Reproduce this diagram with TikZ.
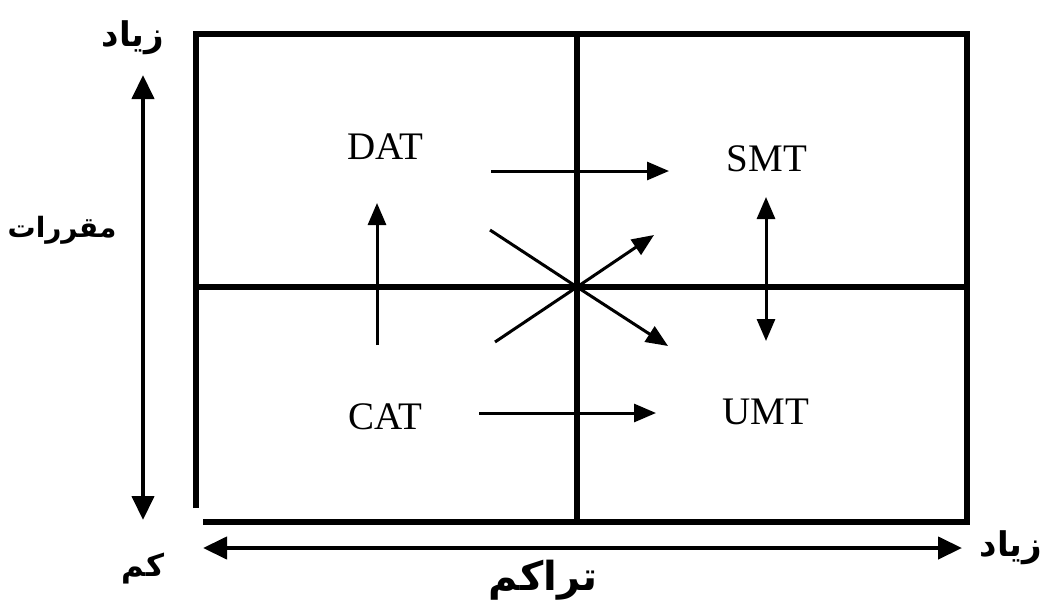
\documentclass[tikz,border=0pt]{standalone}
\usepackage{fontspec}
\setmainfont{Liberation Serif}
\newfontfamily\arabicfont[Script=Arabic]{DejaVu Sans}
\TeXXeTstate=1
\usetikzlibrary{arrows.meta}
\begin{document}
\begin{tikzpicture}[x=1pt,y=-1pt,
  frame/.style={line width=5.5pt},
  axisarrow/.style={line width=4.2pt,{Triangle[length=24pt,width=22pt]}-{Triangle[length=24pt,width=22pt]}},
  inarrow/.style={line width=3pt,-{Triangle[length=22pt,width=18pt]}},
  inboth/.style={line width=3pt,{Triangle[length=22pt,width=18pt]}-{Triangle[length=22pt,width=18pt]}},
  lab/.style={font=\fontsize{39pt}{42pt}\selectfont, inner sep=0pt},
  ar/.style={font=\arabicfont\bfseries\fontsize{34pt}{36pt}\selectfont, inner sep=0pt}]
\useasboundingbox (0,0) rectangle (1043,602);
% frame
\coordinate (tl) at (196,34);
\coordinate (tr) at (967,34);
\coordinate (br) at (967,522);
\coordinate (bl) at (203,522);
\coordinate (lb) at (196,508);
\coordinate (tm) at (577,34);
\coordinate (bm) at (577,522);
\coordinate (ml) at (196,287);
\coordinate (mr) at (967,287);
\coordinate (c) at (577,287);
\draw[frame] (lb) -- (tl) -- (tr) -- (br) -- (bl);
\draw[frame] (tm) -- (bm);
\draw[frame] (ml) -- (mr);
% axis arrows
\coordinate (vtop) at (143,75);
\coordinate (vbot) at (143,520);
\coordinate (hl) at (203,548);
\coordinate (hr) at (962,548);
\draw[axisarrow] (vtop) -- (vbot);
\draw[axisarrow] (hl) -- (hr);
% labels
\node[lab] (dat) at (385,147) {DAT};
\node[lab] (smt) at (767,159) {SMT};
\node[lab] (cat) at (385,417) {CAT};
\node[lab] (umt) at (766,412) {UMT};
% inner arrows
\coordinate (a1s) at (491,171); \coordinate (a1e) at (669,171);
\draw[inarrow] (a1s) -- (a1e);
\coordinate (a2s) at (377,345); \coordinate (a2e) at (377,203);
\draw[inarrow] (a2s) -- (a2e);
\coordinate (a3s) at (766,197); \coordinate (a3e) at (766,341);
\draw[inboth] (a3s) -- (a3e);
\coordinate (a4s) at (479,413); \coordinate (a4e) at (656,413);
\draw[inarrow] (a4s) -- (a4e);
\coordinate (d1s) at (490,230); \coordinate (d1e) at (668,346);
\draw[inarrow] (d1s) -- (c) -- (d1e);
\coordinate (d2s) at (495,342); \coordinate (d2e) at (654,235);
\draw[inarrow] (d2s) -- (c) -- (d2e);
% arabic labels
\node[ar] (ztop) at (133,38) {\beginR زياد\endR};
\node[ar, font=\arabicfont\bfseries\fontsize{28pt}{30pt}\selectfont] (mq) at (62,230) {\beginR مقررات\endR};
\node[ar, font=\arabicfont\bfseries\fontsize{31pt}{33pt}\selectfont] (km) at (143,568) {\beginR كم\endR};
\node[ar] (zr) at (1011,548) {\beginR زياد\endR};
\node[ar, font=\arabicfont\bfseries\fontsize{40pt}{42pt}\selectfont] (tr2) at (543,580) {\beginR تراكم\endR};
\end{tikzpicture}
\end{document}
